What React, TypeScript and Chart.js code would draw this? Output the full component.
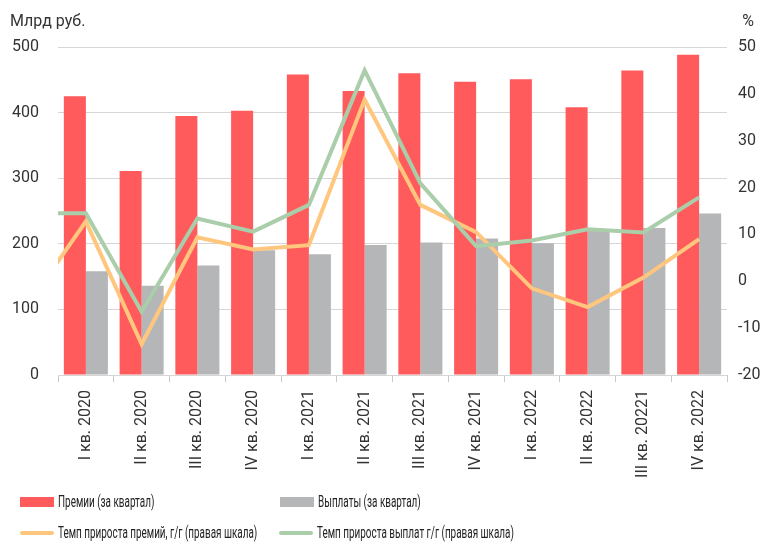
import React, { useEffect, useRef } from "react";
import { Chart, registerables } from "chart.js";

Chart.register(...registerables);

// the preceding quarter is kept only so the growth lines start from it, as in the source chart
const priorCategory = "IV кв. 2019";
const categories = [
  "I кв. 2020", "II кв. 2020", "III кв. 2020", "IV кв. 2020",
  "I кв. 2021", "II кв. 2021", "III кв. 2021", "IV кв. 2021",
  "I кв. 2022", "II кв. 2022", "III кв. 20221", "IV кв. 2022",
];
const premiums = [425, 311, 395, 403, 458, 433, 460, 447, 451, 408, 464, 488];
const payouts = [158, 136, 167, 190, 184, 198, 202, 208, 201, 220, 224, 246];
const premiumGrowth = [12.8, -13.4, 9.4, 6.8, 7.7, 38.8, 16.3, 10.5, -1.5, -5.5, 0.8, 9.0];
const payoutGrowth = [14.5, -6.5, 13.4, 10.6, 16.3, 45.0, 20.9, 7.5, 8.7, 11.1, 10.4, 17.9];
const premiumGrowthPrior = -4.4;
const payoutGrowthPrior = 14.5;
const leftTicks = [0, 100, 200, 300, 400, 500];
const rightTicks = [-20, -10, 0, 10, 20, 30, 40, 50];

const RED = "#FF5A5C";
const GRAY = "#B5B6B8";
const ORANGE = "#FFC67E";
const GREEN = "#AACDAA";
const TXT = "#333333";
const TICK_FONT = { family: "Roboto, 'Liberation Sans', sans-serif", size: 16 };
const LEG_FONT = "Roboto, 'Liberation Sans', sans-serif";

const titlesPlugin = {
  id: "titles",
  afterDraw(chart: any) {
    const ctx = chart.ctx;
    ctx.save();
    ctx.fillStyle = TXT;
    ctx.font = `16px ${TICK_FONT.family}`;
    ctx.textBaseline = "middle";
    ctx.textAlign = "left";
    ctx.fillText("Млрд руб.", 10, 22);
    ctx.textAlign = "right";
    ctx.fillText("%", 754, 22);
    ctx.restore();
  },
};

function LegendItem(props: { left: number; top: number; color: string; line?: boolean; text: string }) {
  const { left, top, color, line, text } = props;
  return (
    <div style={{ position: "absolute", left, top, height: 18, display: "flex", alignItems: "center" }}>
      <div
        style={{
          width: 34,
          height: line ? 4 : 10,
          background: color,
          borderRadius: line ? 2 : 0,
          marginRight: 4,
          flex: "none",
        }}
      />
      <span
        style={{
          fontFamily: LEG_FONT,
          fontSize: 16,
          lineHeight: "18px",
          color: "#222",
          whiteSpace: "nowrap",
          display: "inline-block",
          transform: "scaleX(0.62)",
          transformOrigin: "left center",
        }}
      >
        {text}
      </span>
    </div>
  );
}

export default function App() {
  const ref = useRef<HTMLCanvasElement | null>(null);

  useEffect(() => {
    document.body.style.margin = "0";
    const canvas = ref.current;
    if (!canvas) return;
    const labels = [priorCategory, ...categories];
    const chart = new Chart(canvas, {
      type: "bar",
      data: {
        labels,
        datasets: [
          {
            type: "line",
            label: "Темп прироста выплат г/г (правая шкала)",
            data: [payoutGrowthPrior, ...payoutGrowth],
            yAxisID: "y1",
            borderColor: GREEN,
            backgroundColor: GREEN,
            borderWidth: 4,
            pointRadius: 0,
            tension: 0,
            clip: { left: 0, right: 0, top: 10, bottom: 10 } as any,
            order: 0,
          },
          {
            type: "line",
            label: "Темп прироста премий, г/г (правая шкала)",
            data: [premiumGrowthPrior, ...premiumGrowth],
            yAxisID: "y1",
            borderColor: ORANGE,
            backgroundColor: ORANGE,
            borderWidth: 4,
            pointRadius: 0,
            tension: 0,
            clip: { left: 0, right: 0, top: 10, bottom: 10 } as any,
            order: 1,
          },
          {
            type: "bar",
            label: "Премии (за квартал)",
            data: [null, ...premiums],
            yAxisID: "y",
            backgroundColor: RED,
            barPercentage: 1,
            categoryPercentage: 0.79,
            order: 2,
          },
          {
            type: "bar",
            label: "Выплаты (за квартал)",
            data: [null, ...payouts],
            yAxisID: "y",
            backgroundColor: GRAY,
            barPercentage: 1,
            categoryPercentage: 0.79,
            order: 3,
          },
        ],
      },
      options: {
        animation: false,
        responsive: false,
        maintainAspectRatio: false,
        layout: { padding: { top: 47, left: 0, right: 0, bottom: 0 } },
        plugins: {
          legend: { display: false },
          tooltip: { enabled: false },
        },
        scales: {
          x: {
            type: "category",
            min: categories[0],
            max: categories[categories.length - 1],
            offset: true,
            border: { display: false },
            grid: {
              offset: true,
              drawOnChartArea: false,
              drawTicks: true,
              tickLength: 7,
              color: "#c8c8c8",
            },
            ticks: {
              autoSkip: false,
              minRotation: 90,
              maxRotation: 90,
              padding: 8,
              color: TXT,
              font: TICK_FONT,
            },
            afterFit: (s: any) => { s.height = 545 - 375; },
          },
          y: {
            type: "linear",
            position: "left",
            min: 0,
            max: 500,
            border: { display: false },
            grid: { color: "#d6d6d6", lineWidth: 1, drawTicks: false },
            ticks: {
              stepSize: 100,
              padding: 19,
              color: TXT,
              font: TICK_FONT,
              callback: (v: any) => (leftTicks.includes(Number(v)) ? String(v) : ""),
            },
            afterFit: (s: any) => { s.width = 58; },
          },
          y1: {
            type: "linear",
            position: "right",
            min: -20,
            max: 50,
            border: { display: false },
            grid: { drawOnChartArea: false, drawTicks: false },
            ticks: {
              stepSize: 10,
              padding: 11,
              color: TXT,
              font: TICK_FONT,
              callback: (v: any) => (rightTicks.includes(Number(v)) ? String(v) : ""),
            },
            afterFit: (s: any) => { s.width = 35; },
          },
        },
      },
      plugins: [titlesPlugin],
    });
    return () => chart.destroy();
  }, []);

  return (
    <div style={{ position: "relative", width: 762, height: 545, background: "#fff", overflow: "hidden" }}>
      <canvas ref={ref} width={762} height={545} style={{ display: "block", width: 762, height: 545 }} />
      <LegendItem left={20} top={493} color={RED} text="Премии (за квартал)" />
      <LegendItem left={280} top={493} color={GRAY} text="Выплаты (за квартал)" />
      <LegendItem left={20} top={524} color={ORANGE} line text="Темп прироста премий, г/г (правая шкала)" />
      <LegendItem left={279} top={524} color={GREEN} line text="Темп прироста выплат г/г (правая шкала)" />
    </div>
  );
}
